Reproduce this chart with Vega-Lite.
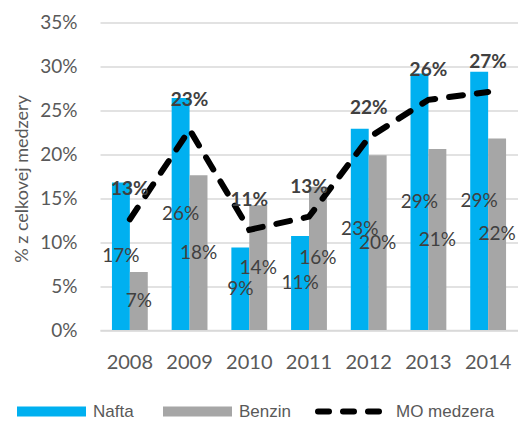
{
  "$schema": "https://vega.github.io/schema/vega-lite/v6.json",
  "width": 418,
  "height": 307.5,
  "autosize": {"type": "none"},
  "padding": {"left": 100, "top": 22.5, "right": 0, "bottom": 91},
  "background": "white",
  "config": {
    "view": {"stroke": null},
    "font": "Lato",
    "legend": {
      "orient": "none",
      "legendX": -88,
      "legendY": 379,
      "direction": "horizontal",
      "title": null,
      "symbolType": "stroke",
      "symbolSize": 4761,
      "symbolStrokeWidth": 10,
      "clipHeight": 20,
      "labelFont": "Liberation Sans",
      "labelFontSize": 17,
      "labelColor": "#595959",
      "labelOffset": 2,
      "columnPadding": 24,
      "labelLimit": 200
    }
  },
  "data": {
    "values": [
      {"year": "2008", "series": "Nafta", "value": 0.168},
      {"year": "2009", "series": "Nafta", "value": 0.264},
      {"year": "2010", "series": "Nafta", "value": 0.094},
      {"year": "2011", "series": "Nafta", "value": 0.107},
      {"year": "2012", "series": "Nafta", "value": 0.229},
      {"year": "2013", "series": "Nafta", "value": 0.292},
      {"year": "2014", "series": "Nafta", "value": 0.294},
      {"year": "2008", "series": "Benzin", "value": 0.066},
      {"year": "2009", "series": "Benzin", "value": 0.176},
      {"year": "2010", "series": "Benzin", "value": 0.142},
      {"year": "2011", "series": "Benzin", "value": 0.163},
      {"year": "2012", "series": "Benzin", "value": 0.199},
      {"year": "2013", "series": "Benzin", "value": 0.206},
      {"year": "2014", "series": "Benzin", "value": 0.218},
      {"year": "2008", "series": "MO medzera", "value": 0.126},
      {"year": "2009", "series": "MO medzera", "value": 0.228},
      {"year": "2010", "series": "MO medzera", "value": 0.114},
      {"year": "2011", "series": "MO medzera", "value": 0.129},
      {"year": "2012", "series": "MO medzera", "value": 0.219},
      {"year": "2013", "series": "MO medzera", "value": 0.262},
      {"year": "2014", "series": "MO medzera", "value": 0.271}
    ]
  },
  "encoding": {
    "x": {
      "field": "year",
      "type": "nominal",
      "scale": {"paddingInner": 0.4, "paddingOuter": 0.2},
      "axis": {
        "title": null,
        "labelAngle": 0,
        "labelFontSize": 20,
        "labelColor": "#595959",
        "labelPadding": 22,
        "ticks": false,
        "domainColor": "#D9D9D9",
        "domainWidth": 1.5,
        "grid": false
      }
    },
    "y": {
      "field": "value",
      "type": "quantitative",
      "scale": {"domain": [0, 0.35], "nice": false},
      "axis": {
        "values": [0, 0.05, 0.1, 0.15, 0.2, 0.25, 0.3, 0.35],
        "format": ".0%",
        "labelFontSize": 19,
        "labelColor": "#595959",
        "labelPadding": 23,
        "ticks": false,
        "domain": false,
        "gridColor": "#D9D9D9",
        "gridWidth": 1.5,
        "title": "% z celkovej medzery",
        "titleFontSize": 18,
        "titleFontWeight": "normal",
        "titleColor": "#595959",
        "titleX": -78,
        "titleY": 156,
        "titleBaseline": "middle",
        "titleAlign": "center"
      }
    }
  },
  "layer": [
    {
      "transform": [{"filter": "datum.series !== 'MO medzera'"}],
      "mark": {"type": "bar"},
      "encoding": {
        "xOffset": {"field": "series", "type": "nominal", "scale": {"domain": ["Nafta", "Benzin"], "paddingInner": 0, "paddingOuter": 0}},
        "color": {
          "field": "series",
          "type": "nominal",
          "scale": {"domain": ["Nafta", "Benzin", "MO medzera"], "range": ["#00B0F0", "#A6A6A6", "#000000"]},
          "legend": {
            "encode": {
              "symbols": {
                "update": {
                  "stroke": {"scale": "color", "field": "value"},
                  "size": {"signal": "(datum.value === 'MO medzera' ? 5329 : 4761)"},
                  "strokeWidth": {"signal": "(datum.value === 'MO medzera' ? 6 : 10)"},
                  "strokeDash": {"signal": "(datum.value === 'MO medzera' ? [11, 14] : [1, 0])"},
                  "strokeCap": {"signal": "(datum.value === 'MO medzera' ? 'round' : 'butt')"}
                }
              }
            }
          }
        }
      }
    },
    {
      "transform": [{"filter": "datum.series !== 'MO medzera'"}],
      "mark": {"type": "text", "baseline": "middle", "align": "center", "fontSize": 19, "color": "#404040",
               "dy": {"expr": "(height - scale('y', datum.value)) / 2"}},
      "encoding": {
        "xOffset": {"field": "series", "type": "nominal", "scale": {"domain": ["Nafta", "Benzin"], "paddingInner": 0, "paddingOuter": 0}},
        "text": {"field": "value", "type": "quantitative", "format": ".0%"}
      }
    },
    {
      "transform": [{"filter": "datum.series === 'MO medzera'"}],
      "mark": {"type": "line", "color": "#000000", "strokeWidth": 6, "strokeDash": [14, 14], "strokeCap": "round"},
      "encoding": {}
    },
    {
      "transform": [{"filter": "datum.series === 'MO medzera'"}],
      "mark": {"type": "text", "baseline": "middle", "align": "center", "fontSize": 19, "fontWeight": "bold", "color": "#404040", "dy": -30},
      "encoding": {
        "text": {"field": "value", "type": "quantitative", "format": ".0%"}
      }
    }
  ]
}
